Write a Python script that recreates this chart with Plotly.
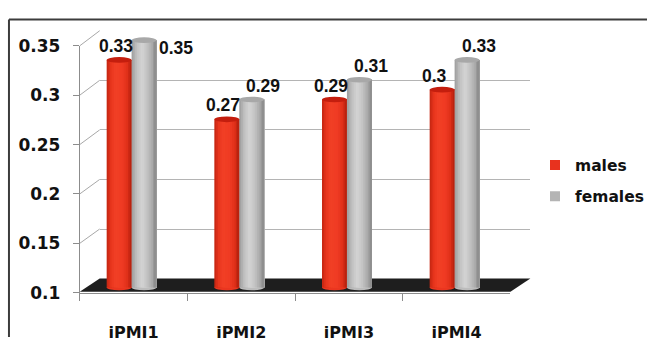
import plotly.graph_objects as go

# ---- data ----
categories = ["iPMI1", "iPMI2", "iPMI3", "iPMI4"]
males = [0.33, 0.27, 0.29, 0.30]
females = [0.35, 0.29, 0.31, 0.33]
y_ticks = [0.1, 0.15, 0.2, 0.25, 0.3, 0.35]
y_tick_labels = ["0.1", "0.15", "0.2", "0.25", "0.3", "0.35"]

# ---- geometry of the pseudo-3D frame (pixels) ----
W, H = 649, 347
Y_MIN, Y_MAX = 0.1, 0.35

FRONT_X0, FRONT_X1 = 80, 512      # front axis plane
FRONT_Y0, FRONT_Y1 = 300, 38
BACK_X0, BACK_X1 = 100, 532       # back wall
BACK_Y0, BACK_Y1 = 285, 22
BAR_X0, BAR_X1 = 78, 510          # plane the cylinders stand in
BAR_PX_PER_UNIT = 1050.0
BAR_Y_BASE = 294.5
BAR_RANGE = [0.09, 0.37]
CYL_PX = 25.0
ELL_PX = 3.0


def fx(px):
    return px / W


def fy(py):
    return 1 - py / H


def bar_py(v):
    return BAR_Y_BASE - (v - Y_MIN) * BAR_PX_PER_UNIT


def front_py(v):
    return FRONT_Y0 - (v - Y_MIN) / (Y_MAX - Y_MIN) * (FRONT_Y0 - FRONT_Y1)


def back_py(v):
    return BACK_Y0 - (v - Y_MIN) / (Y_MAX - Y_MIN) * (BACK_Y0 - BACK_Y1)


cat_px = (BAR_X1 - BAR_X0) / len(categories)
cyl_w = CYL_PX / cat_px
ell_h = ELL_PX / BAR_PX_PER_UNIT


def hex2rgb(h):
    h = h.lstrip("#")
    return [int(h[i:i + 2], 16) for i in (0, 2, 4)]


def shade(stops, t):
    for (t0, c0), (t1, c1) in zip(stops, stops[1:]):
        if t0 <= t <= t1:
            a = (t - t0) / (t1 - t0) if t1 > t0 else 0
            r0, r1 = hex2rgb(c0), hex2rgb(c1)
            return "rgb(%d,%d,%d)" % tuple(round(x + (y - x) * a) for x, y in zip(r0, r1))
    return stops[-1][1]


series = [
    dict(name="males", values=males, left=-cyl_w, legend="#e8321e",
         top="#c41e0e", body="#ea3620",
         stops=[(0.0, "#c02410"), (0.15, "#e6341c"), (0.35, "#f24026"),
                (0.65, "#ee3a22"), (0.85, "#dc2e18"), (1.0, "#b01e0c")]),
    dict(name="females", values=females, left=0.0, legend="#b4b4b4",
         top="#a8a8a8", body="#bcbcbc",
         stops=[(0.0, "#9c9c9c"), (0.2, "#c0c0c0"), (0.42, "#d4d4d4"),
                (0.65, "#c0c0c0"), (0.85, "#a6a6a6"), (1.0, "#888888")]),
]

fig = go.Figure()

# placeholder traces so the wall and front-axis subplots are rendered
fig.add_trace(go.Scatter(x=[None], y=[None], xaxis="x", yaxis="y",
                         showlegend=False, hoverinfo="skip"))
fig.add_trace(go.Scatter(x=categories, y=[None] * len(categories),
                         xaxis="x2", yaxis="y2", showlegend=False, hoverinfo="skip"))

# cylinders: overlapping strips give the rounded shading
N = 14
xs = list(range(len(categories)))
for s in series:
    for k in range(N):
        fig.add_trace(go.Bar(
            x=xs,
            y=[v - Y_MIN for v in s["values"]],
            base=Y_MIN,
            offset=s["left"] + k * cyl_w / N,
            width=cyl_w - k * cyl_w / N,
            marker=dict(color=shade(s["stops"], (k + 0.5) / N), line=dict(width=0)),
            xaxis="x3", yaxis="y3",
            showlegend=False, hoverinfo="skip",
        ))

# legend entries
for s in series:
    fig.add_trace(go.Scatter(
        x=[None], y=[None], mode="markers", name=s["name"], legendgroup=s["name"],
        marker=dict(symbol="square", size=10, color=s["legend"]),
        xaxis="x3", yaxis="y3",
    ))

shapes = []
annotations = []

# floor slab
shapes.append(dict(
    type="path", xref="paper", yref="paper", layer="below",
    path="M %f,%f L %f,%f L %f,%f L %f,%f Z" % (
        fx(FRONT_X0), fy(FRONT_Y0 - 1), fx(BACK_X0), fy(BACK_Y0),
        fx(BACK_X1), fy(BACK_Y0), fx(FRONT_X1), fy(FRONT_Y0 - 1)),
    fillcolor="#1e1e1e", line=dict(width=0),
))

# side-wall connectors from front ticks to back gridlines
for v in y_ticks[1:]:
    shapes.append(dict(
        type="line", xref="paper", yref="paper", layer="below",
        x0=fx(FRONT_X0), y0=fy(front_py(v)), x1=fx(BACK_X0), y1=fy(back_py(v)),
        line=dict(color="#a8a8a8", width=1),
    ))

# outer frame
shapes.append(dict(type="line", xref="paper", yref="paper",
                   x0=fx(9), y0=fy(10), x1=1, y1=fy(10),
                   line=dict(color="#3c3c3c", width=2)))
shapes.append(dict(type="line", xref="paper", yref="paper",
                   x0=fx(9), y0=fy(10), x1=fx(9), y1=0,
                   line=dict(color="#3c3c3c", width=2)))

# cylinder tops and bottoms, value labels
for s in series:
    for i, v in enumerate(s["values"]):
        xl = i + s["left"]
        shapes.append(dict(
            type="circle", xref="x3", yref="y3", layer="below",
            x0=xl, x1=xl + cyl_w, y0=Y_MIN - ell_h, y1=Y_MIN + ell_h,
            fillcolor=s["body"], line=dict(width=0),
        ))
        shapes.append(dict(
            type="circle", xref="x3", yref="y3",
            x0=xl, x1=xl + cyl_w, y0=v - ell_h, y1=v + ell_h,
            fillcolor=s["top"], line=dict(width=0),
        ))
        if v >= Y_MAX:
            # label at the top of the axis sits beside the cylinder
            ax, shift_x, shift_y = xl + cyl_w, 0, -8
        elif s["left"] < 0:
            ax, shift_x, shift_y = xl, -10, 14
        else:
            ax, shift_x, shift_y = xl, 5, 14
        annotations.append(dict(
            x=ax, y=v, xref="x3", yref="y3", text=f"{v:g}", showarrow=False,
            xanchor="left", yanchor="middle", xshift=shift_x, yshift=shift_y,
            font=dict(family="Liberation Sans", size=17.5, color="#111111", weight="bold"),
        ))

fig.update_layout(
    width=W, height=H,
    margin=dict(l=0, r=0, t=0, b=0),
    paper_bgcolor="white", plot_bgcolor="rgba(0,0,0,0)",
    barmode="overlay",
    showlegend=True,
    legend=dict(
        x=fx(537), y=fy(147), xanchor="left", yanchor="top",
        font=dict(family="DejaVu Sans", size=15.5, color="#111111", weight="bold"),
        bgcolor="rgba(0,0,0,0)", tracegroupgap=8, itemwidth=30,
    ),
    # back wall with gridlines
    xaxis=dict(domain=[fx(BACK_X0), fx(BACK_X1)], range=[0, 1], anchor="y",
               showgrid=False, zeroline=False, showline=False, showticklabels=False,
               ticks=""),
    yaxis=dict(domain=[fy(BACK_Y0), fy(BACK_Y1)], range=[Y_MIN, Y_MAX], anchor="x",
               tickvals=y_ticks[1:], showgrid=True, gridcolor="#b4b4b4", gridwidth=1,
               zeroline=False, showline=False, showticklabels=False, ticks=""),
    # front axes with ticks and labels
    xaxis2=dict(domain=[fx(FRONT_X0), fx(FRONT_X1)], anchor="y2", type="category",
                categoryorder="array", categoryarray=categories,
                range=[-0.5, len(categories) - 0.5],
                tickson="boundaries", ticks="outside", ticklen=7, tickcolor="#8c8c8c",
                showline=True, linecolor="#8c8c8c", linewidth=1, showgrid=False,
                zeroline=False, ticklabelstandoff=25,
                tickfont=dict(family="DejaVu Sans", size=16, color="#111111", weight="bold")),
    yaxis2=dict(domain=[fy(FRONT_Y0), fy(FRONT_Y1)], range=[Y_MIN, Y_MAX], anchor="x2",
                tickvals=y_ticks, ticktext=y_tick_labels,
                ticks="outside", ticklen=6, tickcolor="#8c8c8c",
                showline=True, linecolor="#8c8c8c", linewidth=1, showgrid=False,
                zeroline=False, ticklabelstandoff=9,
                tickfont=dict(family="DejaVu Sans", size=17, color="#111111", weight="bold")),
    # plane of the cylinders
    xaxis3=dict(domain=[fx(BAR_X0), fx(BAR_X1)], range=[-0.5, len(categories) - 0.5],
                anchor="y3", visible=False),
    yaxis3=dict(domain=[fy(bar_py(BAR_RANGE[0])), fy(bar_py(BAR_RANGE[1]))],
                range=BAR_RANGE, anchor="x3", visible=False),
    shapes=shapes,
    annotations=annotations,
)

fig.write_html("out.html")
